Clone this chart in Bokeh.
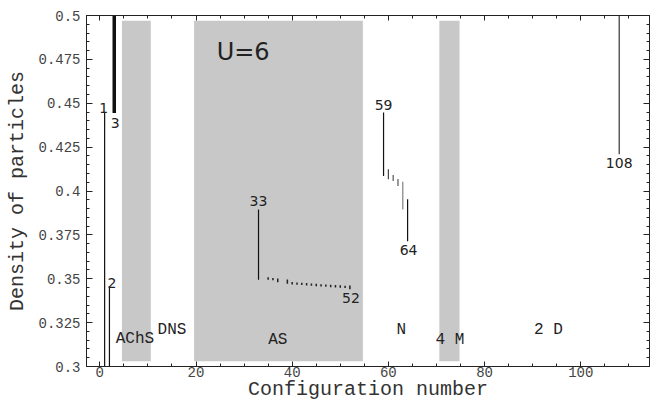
from bokeh.plotting import figure
from bokeh.models import Range1d, LinearAxis, SingleIntervalTicker, NumeralTickFormatter, ColumnDataSource, CustomJSTickFormatter
from bokeh.core.properties import value
from bokeh.embed import file_html
from bokeh.resources import INLINE

# ---------------- data ----------------
# vertical density ranges per configuration
main_config = [1, 2, 3, 33, 59, 60, 61, 62, 63, 64, 108]
main_high = [0.4447, 0.3457, 0.5, 0.3895, 0.4447, 0.4124, 0.4091, 0.4069, 0.4053, 0.3953, 0.5]
main_low = [0.3, 0.3, 0.4444, 0.3495, 0.4086, 0.4067, 0.4057, 0.4029, 0.3895, 0.3714, 0.421]

# short ranges of configurations 35..52
mini_config = [35, 36, 37, 39, 40, 41, 42, 43, 44, 45, 46, 47, 48, 49, 50, 51, 52]
mini_high = [0.3504, 0.3500, 0.3497, 0.3492, 0.3477, 0.3475, 0.3473, 0.3471, 0.3469, 0.3467, 0.3465, 0.3463, 0.3461, 0.3460, 0.3458, 0.3456, 0.3457]
mini_low = [0.3499, 0.3496, 0.3484, 0.3476, 0.3472, 0.3470, 0.3468, 0.3466, 0.3464, 0.3462, 0.3460, 0.3458, 0.3456, 0.3455, 0.3453, 0.3451, 0.3445]

# shaded phase regions
band_left = [4.6, 19.6, 70.6]
band_right = [10.6, 54.7, 74.8]
band_bottom = 0.303
band_top = 0.497

# phase names
phase_names = ["AChS", "DNS", "AS", "N", "4 M", "2 D"]
phase_x = [7.3, 15.0, 37.0, 62.7, 72.8, 93.3]
phase_y = [0.3154, 0.3206, 0.3153, 0.3206, 0.3153, 0.3206]

# labelled configurations
labelled = [1, 2, 3, 33, 52, 59, 64, 108]

x_tick_interval = 20
y_tick_interval = 0.025
x_title = "Configuration number"
y_title = "Density of particles"
title_text = "U=6"
title_pos = (29.8, 0.4806)

# ---------------- figure ----------------
MONO = "Liberation Mono"
p = figure(width=650, height=405, x_range=Range1d(-2.77, 114.3), y_range=Range1d(0.3, 0.5),
           output_backend="svg", toolbar_location=None,
           x_axis_label=x_title, y_axis_label=y_title,
           min_border_top=15, min_border_right=1, min_border_left=86, min_border_bottom=39)
p.grid.visible = False
p.outline_line_color = "#222222"
p.background_fill_color = "white"
p.border_fill_color = "white"

def style_axis(ax, ticker, show_labels, major_len):
    ax.ticker = ticker
    ax.axis_line_color = "#222222"
    ax.major_tick_in = major_len
    ax.major_tick_out = 0
    ax.minor_tick_in = 3
    ax.minor_tick_out = 0
    ax.major_tick_line_color = "#222222"
    ax.minor_tick_line_color = "#222222"
    ax.major_label_text_font = MONO
    ax.major_label_text_color = "#444444"
    ax.axis_label_text_font = MONO
    ax.axis_label_text_font_style = "normal"
    ax.axis_label_text_color = "#333333"
    ax.axis_label_text_font_size = "20px"
    if show_labels:
        ax.major_label_text_font_size = "14px"
    else:
        ax.formatter = CustomJSTickFormatter(code="return '';")
        ax.major_label_text_font_size = "1px"
        ax.major_label_standoff = 0

xt = SingleIntervalTicker(interval=x_tick_interval, num_minor_ticks=4)
yt = SingleIntervalTicker(interval=y_tick_interval, num_minor_ticks=5)

style_axis(p.xaxis[0], xt, True, 5)
p.xaxis[0].major_label_standoff = 0
p.xaxis[0].axis_label_standoff = -2
style_axis(p.yaxis[0], yt, True, 6)
p.yaxis[0].formatter = NumeralTickFormatter(format="0.[000]")
p.yaxis[0].major_label_standoff = 6
p.yaxis[0].axis_label_standoff = 6

top = LinearAxis()
style_axis(top, SingleIntervalTicker(interval=x_tick_interval, num_minor_ticks=4), False, 5)
p.add_layout(top, "above")
right = LinearAxis()
style_axis(right, SingleIntervalTicker(interval=y_tick_interval, num_minor_ticks=5), False, 6)
p.add_layout(right, "right")

# bands
p.quad(left=band_left, right=band_right, bottom=band_bottom, top=band_top,
       fill_color="#c8c8c8", line_color=None)

# main lines
main_color = {60: "#444444", 61: "#555555", 62: "#555555", 63: "#808080", 108: "#333333"}
main_width = {3: 3.5}
src = ColumnDataSource(dict(
    x=main_config, y0=main_low, y1=main_high,
    color=[main_color.get(c, "#111111") for c in main_config],
    width=[main_width.get(c, 1.2) for c in main_config],
))
p.segment(x0="x", y0="y0", x1="x", y1="y1", source=src, line_color="color", line_width="width")

p.segment(x0=mini_config, y0=mini_low, x1=mini_config, y1=mini_high,
          line_color="#222222", line_width=1.5, line_cap="square")

# number labels
all_cfg = main_config + mini_config
all_hi = main_high + mini_high
all_lo = main_low + mini_low
placement = {  # anchor, align, baseline, dx, dy
    1: ("hi", "center", "alphabetic", -1, -5),
    2: ("hi", "left", "alphabetic", -2, -3),
    3: ("lo", "center", "top", 1, 5),
    33: ("hi", "center", "alphabetic", 0, -8),
    52: ("lo", "center", "top", 1, 5),
    59: ("hi", "center", "alphabetic", 0, -8),
    64: ("lo", "center", "top", 1, 4),
    108: ("lo", "center", "top", 0, 4),
}
lx, ly, lt, la, lb, ldx, ldy = [], [], [], [], [], [], []
for c in labelled:
    i = all_cfg.index(c)
    anc, al, bl, dx, dy = placement[c]
    lx.append(c)
    ly.append(all_hi[i] if anc == "hi" else all_lo[i])
    lt.append(str(c))
    la.append(al); lb.append(bl); ldx.append(dx); ldy.append(dy)
p.text(x="x", y="y", text="t", text_align="a", text_baseline="b", x_offset="dx", y_offset="dy",
       source=ColumnDataSource(dict(x=lx, y=ly, t=lt, a=la, b=lb, dx=ldx, dy=ldy)),
       text_font=value("DejaVu Sans"), text_font_size=value("14px"), text_color="#222222")

# phase names
p.text(x=phase_x, y=phase_y, text=phase_names, text_align="center", text_baseline="middle",
       text_font=value(MONO), text_font_size=value("16px"), text_color="#222222")

# U=6
p.text(x=[title_pos[0]], y=[title_pos[1]], text=[title_text], text_align="center", text_baseline="middle",
       y_offset=2, text_font=value("DejaVu Sans"), text_font_size=value("24px"), text_color="#222222")

open("out.html", "w").write(file_html(p, INLINE))
